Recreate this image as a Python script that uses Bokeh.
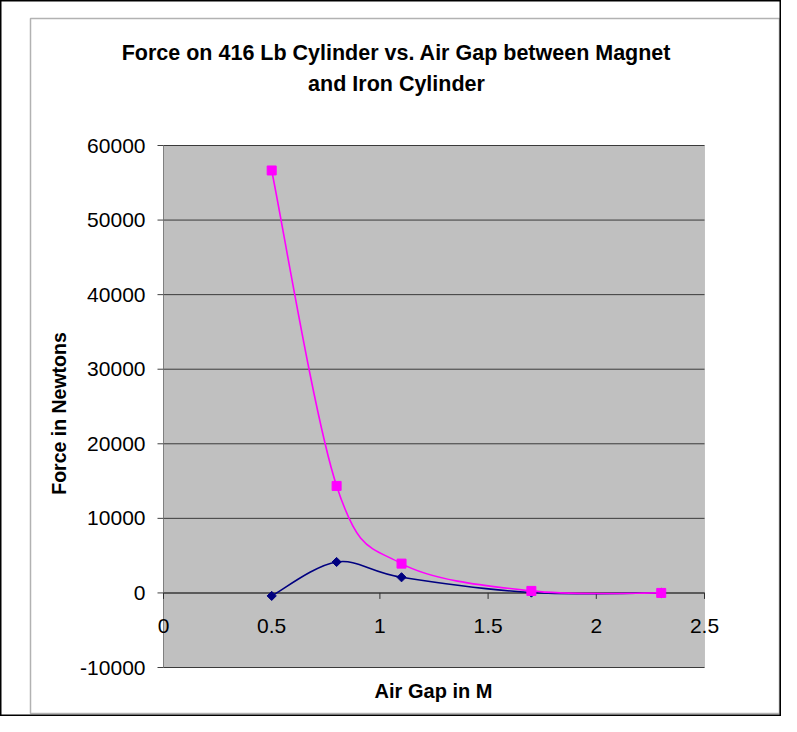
from bokeh.plotting import figure
from bokeh.models import Range1d, Label, BoxAnnotation, ColumnDataSource
from bokeh.core.properties import value
from bokeh.embed import file_html
from bokeh.resources import INLINE
import numpy as np

# ---- data ----
air_gap = [0.5, 0.8, 1.1, 1.7, 2.3]
force_navy = [-400, 4150, 2100, 50, 0]
force_pink = [56650, 14350, 3930, 270, 0]
x_ticks = [0, 0.5, 1, 1.5, 2, 2.5]
x_tick_labels = ["0", "0.5", "1", "1.5", "2", "2.5"]
y_ticks = [-10000, 0, 10000, 20000, 30000, 40000, 50000, 60000]
y_tick_labels = ["-10000", "0", "10000", "20000", "30000", "40000", "50000", "60000"]
title_lines = ["Force on 416 Lb Cylinder vs. Air Gap between Magnet", "and Iron Cylinder"]
x_title = "Air Gap in M"
y_title = "Force in Newtons"

X_MIN, X_MAX = 0, 2.5
Y_MIN, Y_MAX = -10000, 60000

FONT = "Liberation Sans"
W, H = 781, 716
DX, DY = -4, 0  # shift of the whole drawing on the canvas
# plot-area position on the canvas (pixels)
PL, PR, PT, PB = 167 + DX, 708 + DX, 145 + DY, 667 + DY

sx = (PR - PL) / (X_MAX - X_MIN)
sy = (PB - PT) / (Y_MAX - Y_MIN)
x_range = Range1d(X_MIN - PL / sx, X_MIN - PL / sx + W / sx)
y_range = Range1d(Y_MIN - (H - PB) / sy, Y_MIN - (H - PB) / sy + H / sy)

p = figure(width=W, height=H, output_backend="svg", toolbar_location=None,
           x_range=x_range, y_range=y_range, x_axis_type=None, y_axis_type=None,
           min_border=0)
p.xgrid.visible = False
p.ygrid.visible = False
p.background_fill_color = "white"
p.border_fill_color = "white"
p.outline_line_color = "black"
p.outline_line_width = 2

# plot area
p.add_layout(BoxAnnotation(left=X_MIN, right=X_MAX, bottom=Y_MIN, top=Y_MAX,
                           fill_color="#C0C0C0", fill_alpha=1.0,
                           line_color="#808080", line_width=1, level="underlay"))

# horizontal gridlines
p.segment(x0=X_MIN, x1=X_MAX, y0=y_ticks, y1=y_ticks, line_color="#3a3a3a", line_width=1)

# y axis: line, ticks, labels
p.segment(x0=X_MIN, x1=X_MIN, y0=Y_MIN, y1=Y_MAX, line_color="#808080", line_width=1)
p.ray(x=[X_MIN] * len(y_ticks), y=y_ticks, length=6, length_units="screen", angle=np.pi,
      line_color="#404040", line_width=1)
p.text(x=[X_MIN] * len(y_ticks), y=y_ticks, text=y_tick_labels, x_offset=-18,
       text_align="right", text_baseline="middle", text_font=value(FONT),
       text_font_size="21px", text_color="black")

# x axis crossing at 0: line, ticks, labels
p.segment(x0=X_MIN, x1=X_MAX, y0=0, y1=0, line_color="#5a5a5a", line_width=2)
p.ray(x=x_ticks, y=[0] * len(x_ticks), length=6, length_units="screen", angle=-np.pi / 2,
      line_color="#303030", line_width=1)
p.text(x=x_ticks, y=[0] * len(x_ticks), text=x_tick_labels, y_offset=33,
       text_align="center", text_baseline="middle", text_font=value(FONT),
       text_font_size="21px", text_color="black")


def smooth_segments(xs, ys, t=1.0 / 6.0):
    n = len(xs)
    out = dict(x0=[], y0=[], x1=[], y1=[], cx0=[], cy0=[], cx1=[], cy1=[])
    for i in range(n - 1):
        xa, ya = xs[max(i - 1, 0)], ys[max(i - 1, 0)]
        xb, yb = xs[i], ys[i]
        xc, yc = xs[i + 1], ys[i + 1]
        xd, yd = xs[min(i + 2, n - 1)], ys[min(i + 2, n - 1)]
        out["x0"].append(xb); out["y0"].append(yb)
        out["x1"].append(xc); out["y1"].append(yc)
        out["cx0"].append(xb + (xc - xa) * t); out["cy0"].append(yb + (yc - ya) * t)
        out["cx1"].append(xc - (xd - xb) * t); out["cy1"].append(yc - (yd - yb) * t)
    return ColumnDataSource(out)


navy = "#000080"
pink = "#FF00FF"

p.bezier(x0="x0", y0="y0", x1="x1", y1="y1", cx0="cx0", cy0="cy0", cx1="cx1", cy1="cy1",
         source=smooth_segments(air_gap, force_navy), line_color=navy, line_width=1.6)
p.scatter(air_gap, force_navy, marker="square", angle=np.pi / 4, size=6.5,
          fill_color=navy, line_color=navy)

p.bezier(x0="x0", y0="y0", x1="x1", y1="y1", cx0="cx0", cy0="cy0", cx1="cx1", cy1="cy1",
         source=smooth_segments(air_gap, force_pink), line_color=pink, line_width=1.6)
p.scatter(air_gap, force_pink, marker="square", size=9,
          fill_color=pink, line_color=pink)

# titles
for i, line in enumerate(title_lines):
    p.add_layout(Label(x=400 + DX, y=52 + 31 * i + DY, x_units="canvas", y_units="canvas",
                       text=line, text_align="center", text_baseline="middle",
                       text_font=FONT, text_font_size="21.5px", text_font_style="bold",
                       text_color="black"))

p.add_layout(Label(x=437 + DX, y=690 + DY, x_units="canvas", y_units="canvas", text=x_title,
                   text_align="center", text_baseline="middle",
                   text_font=FONT, text_font_size="20px", text_font_style="bold",
                   text_color="black"))
p.add_layout(Label(x=62 + DX, y=413 + DY, x_units="canvas", y_units="canvas", text=y_title,
                   angle=np.pi / 2, text_align="center", text_baseline="middle",
                   text_font=FONT, text_font_size="19.5px", text_font_style="bold",
                   text_color="black"))

# chart-area border
p.add_layout(BoxAnnotation(left=34 + DX, right=783 + DX, top=18 + DY, bottom=713 + DY,
                           left_units="canvas", right_units="canvas",
                           top_units="canvas", bottom_units="canvas",
                           fill_color=None, line_color="black", line_width=1.5))

open("out.html", "w").write(file_html(p, INLINE))
